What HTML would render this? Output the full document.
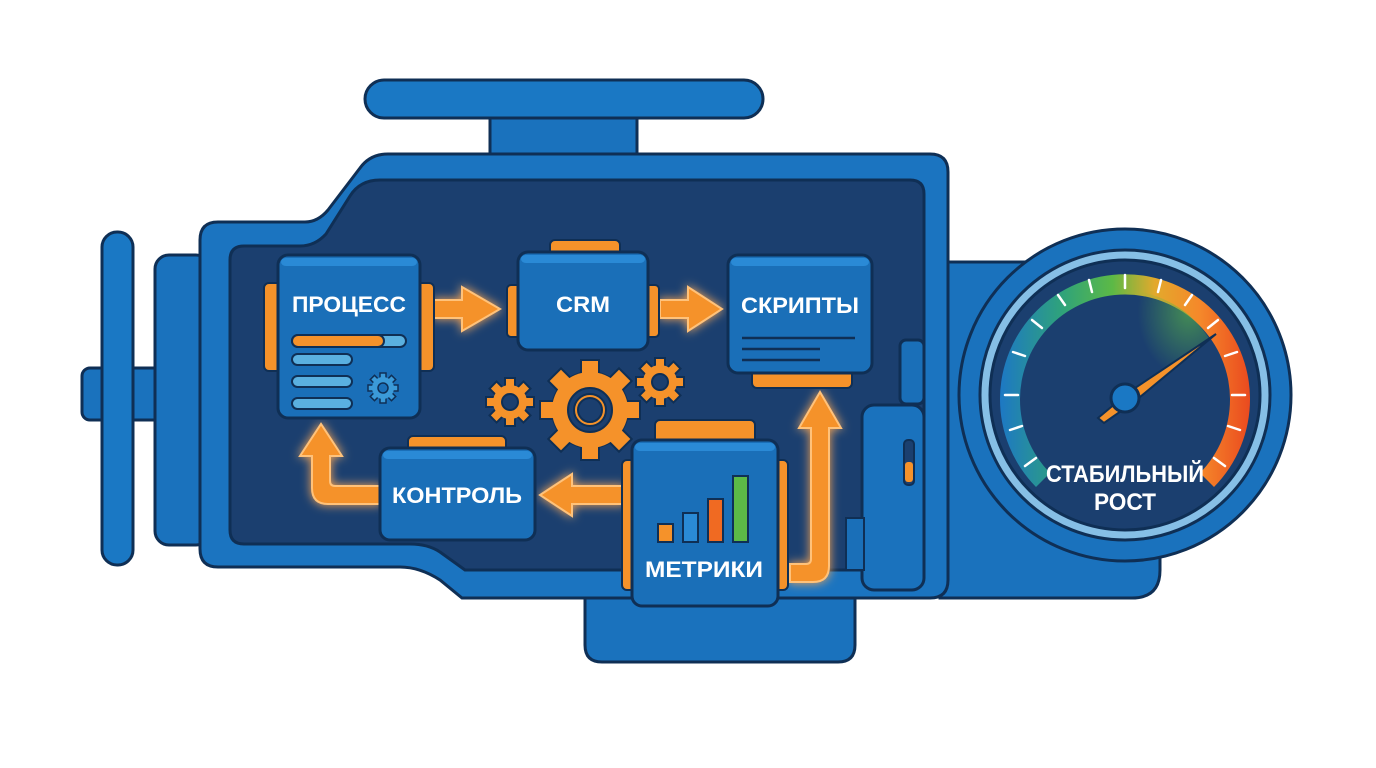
<!DOCTYPE html>
<html><head><meta charset="utf-8"><style>
html,body{margin:0;padding:0;background:#fff;width:1376px;height:768px;overflow:hidden}
text{font-family:"Liberation Sans",sans-serif;font-weight:bold;fill:#fff}
</style></head><body>
<svg width="1376" height="768" viewBox="0 0 1376 768" xmlns="http://www.w3.org/2000/svg">
<defs>
<filter id="glow" x="-30%" y="-30%" width="160%" height="160%"><feGaussianBlur stdDeviation="5" result="b"/><feMerge><feMergeNode in="b"/><feMergeNode in="SourceGraphic"/></feMerge></filter>
<linearGradient id="arcg" x1="0" y1="0" x2="1" y2="0"><stop offset="0" stop-color="#1d78c4"/><stop offset="0.25" stop-color="#2fa37a"/><stop offset="0.45" stop-color="#5cb946"/><stop offset="0.62" stop-color="#e3a92c"/><stop offset="0.8" stop-color="#f5882a"/><stop offset="1" stop-color="#ea4a1f"/></linearGradient>
<radialGradient id="greenfade" cx="0.75" cy="0.2" r="0.6"><stop offset="0" stop-color="#5cb946" stop-opacity="0.9"/><stop offset="1" stop-color="#5cb946" stop-opacity="0"/></radialGradient>
</defs>
<g stroke="#0f2f55" stroke-width="3">
<rect x="490" y="112" width="147" height="46" fill="#1a72bd"/>
<rect x="365" y="80" width="398" height="38" rx="19" fill="#1a78c4"/>
<rect x="82" y="368" width="125" height="52" rx="8" fill="#1a72bd"/>
<rect x="155" y="255" width="55" height="290" rx="14" fill="#1a72bd"/>
<rect x="102" y="232" width="31" height="333" rx="15" fill="#1a78c4"/>
<path d="M585,590 L855,590 L855,645 Q855,662 838,662 L602,662 Q585,662 585,645 Z" fill="#1a72bd"/>
<path d="M940,262 L1140,262 Q1160,262 1160,282 L1160,570 Q1160,598 1132,598 L940,598 Z" fill="#1a72bd"/>
<path d="M218,222 L305,222 Q318,222 328,210 L360,168 Q370,154 388,154 L930,154 Q948,154 948,172 L948,580 Q948,598 930,598 L462,598 L440,580 Q420,567 400,567 L218,567 Q200,567 200,549 L200,240 Q200,222 218,222 Z" fill="#1b74c0"/>
<path d="M244,246 L300,246 Q315,246 326,234 L350,196 Q360,180 380,180 L910,180 Q924,180 924,194 L924,556 Q924,570 910,570 L465,570 L440,552 Q428,544 410,544 L244,544 Q230,544 230,530 L230,260 Q230,246 244,246 Z" fill="#1b3f6f"/>
<rect x="900" y="340" width="24" height="64" rx="6" fill="#1a6fb8"/>
<rect x="862" y="405" width="62" height="185" rx="12" fill="#1a72bd"/>
<rect x="904" y="440" width="10" height="45" rx="4" fill="#1b3f6f" stroke-width="2"/>
<rect x="905" y="462" width="8" height="20" rx="3" fill="#f5922a" stroke="none"/>
<rect x="846" y="518" width="18" height="52" fill="#1a6fb8" stroke-width="2"/>
</g>
<g stroke="#0f2f55" stroke-width="3">
<circle cx="1125" cy="395" r="166" fill="#1a72bd"/>
<circle cx="1125" cy="395" r="145" fill="#86bfe6"/>
<circle cx="1125" cy="395" r="135" fill="#1b3f6f"/>
</g>
<path d="M1036,487 A125,125 0 1 1 1214,487 L1200,473 A105,105 0 1 0 1050,473 Z" fill="url(#arcg)"/>
<path d="M1125,290 A105,105 0 0 1 1210,340 L1125,400 Z" fill="url(#greenfade)" opacity="0.7"/>
<g stroke="#fff" stroke-width="2.5" stroke-linecap="round">
<line x1="1125" y1="275" x2="1125" y2="288"/>
<line x1="1161" y1="280" x2="1158" y2="292"/>
<line x1="1192" y1="295" x2="1185" y2="305"/>
<line x1="1218" y1="320" x2="1208" y2="328"/>
<line x1="1237" y1="352" x2="1225" y2="356"/>
<line x1="1245" y1="395" x2="1232" y2="395"/>
<line x1="1240" y1="430" x2="1228" y2="426"/>
<line x1="1225" y1="466" x2="1214" y2="458"/>
<line x1="1089" y1="280" x2="1092" y2="292"/>
<line x1="1058" y1="295" x2="1065" y2="305"/>
<line x1="1032" y1="320" x2="1042" y2="328"/>
<line x1="1013" y1="352" x2="1025" y2="356"/>
<line x1="1005" y1="395" x2="1018" y2="395"/>
<line x1="1010" y1="430" x2="1022" y2="426"/>
<line x1="1025" y1="466" x2="1036" y2="458"/>
</g>
<polygon points="1216,334 1129,392 1098,418 1104,423 1134,402" fill="#f5922a" stroke="#0f2f55" stroke-width="2"/>
<circle cx="1125" cy="398" r="14" fill="#1a78c4" stroke="#0f2f55" stroke-width="3"/>
<text x="1125" y="482" font-size="24" text-anchor="middle" textLength="158" lengthAdjust="spacingAndGlyphs">СТАБИЛЬНЫЙ</text>
<text x="1125" y="510" font-size="24" text-anchor="middle" textLength="62" lengthAdjust="spacingAndGlyphs">РОСТ</text>
<g fill="#f5922a" stroke="#ffc27a" stroke-width="2" filter="url(#glow)">
<polygon points="434,300 462,300 462,287 500,309 462,331 462,318 434,318"/>
<polygon points="660,300 688,300 688,287 722,309 688,331 688,318 660,318"/>
<polygon points="624,486 572,486 572,474 540,495 572,516 572,504 624,504"/>
<path d="M380,486 L335,486 Q330,486 330,481 L330,456 L342,456 L321,424 L300,456 L312,456 L312,488 Q312,504 328,504 L380,504 Z"/>
<path d="M790,564 L806,564 Q811,564 811,559 L811,428 L799,428 L820,392 L841,428 L829,428 L829,566 Q829,582 813,582 L790,582 Z"/>
</g>
<g fill="#f5922a" stroke="#0f2f55" stroke-width="2">
<g transform="translate(590,410)">
<circle r="38"/>
<g><rect x="-9" y="-50" width="18" height="16"/><rect x="-9" y="34" width="18" height="16"/><rect x="-50" y="-9" width="16" height="18"/><rect x="34" y="-9" width="16" height="18"/></g>
<g transform="rotate(45)"><rect x="-9" y="-50" width="18" height="16"/><rect x="-9" y="34" width="18" height="16"/><rect x="-50" y="-9" width="16" height="18"/><rect x="34" y="-9" width="16" height="18"/></g>
<circle r="38" stroke="none"/>
<circle r="22" fill="#1b3f6f"/><circle r="16" fill="#f5922a"/><circle r="12" fill="#1b3f6f"/>
</g>
<g transform="translate(510,402)">
<g><rect x="-5" y="-24" width="10" height="48"/><rect x="-24" y="-5" width="48" height="10"/></g>
<g transform="rotate(45)"><rect x="-5" y="-24" width="10" height="48"/><rect x="-24" y="-5" width="48" height="10"/></g>
<circle r="17" stroke="none"/><circle r="8" fill="#1b3f6f"/>
</g>
<g transform="translate(660,382)">
<g><rect x="-5" y="-24" width="10" height="48"/><rect x="-24" y="-5" width="48" height="10"/></g>
<g transform="rotate(45)"><rect x="-5" y="-24" width="10" height="48"/><rect x="-24" y="-5" width="48" height="10"/></g>
<circle r="17" stroke="none"/><circle r="8" fill="#1b3f6f"/>
</g>
</g>
<g fill="#f5922a" stroke="#0f2f55" stroke-width="2">
<rect x="264" y="283" width="18" height="88" rx="5"/><rect x="416" y="283" width="18" height="88" rx="5"/>
<rect x="550" y="240" width="70" height="16" rx="5"/>
<rect x="507" y="285" width="14" height="52" rx="4"/><rect x="645" y="285" width="14" height="52" rx="4"/>
<rect x="752" y="368" width="100" height="20" rx="5"/>
<rect x="408" y="436" width="98" height="16" rx="5"/>
<rect x="655" y="420" width="100" height="24" rx="5"/>
<rect x="622" y="460" width="14" height="130" rx="5"/><rect x="774" y="460" width="14" height="130" rx="5"/>
</g>
<g stroke="#0f2f55" stroke-width="3">
<rect x="278" y="255" width="142" height="163" rx="10" fill="#1a6fb8"/>
<rect x="518" y="252" width="130" height="98" rx="10" fill="#1a6fb8"/>
<rect x="728" y="255" width="144" height="118" rx="10" fill="#1a6fb8"/>
<rect x="380" y="448" width="155" height="92" rx="10" fill="#1a6fb8"/>
<rect x="632" y="440" width="146" height="166" rx="10" fill="#1a6fb8"/>
</g>
<g fill="#2a8ad6">
<rect x="281" y="258" width="136" height="8" rx="5"/>
<rect x="521" y="255" width="124" height="8" rx="5"/>
<rect x="731" y="258" width="138" height="8" rx="5"/>
<rect x="383" y="451" width="149" height="8" rx="5"/>
<rect x="635" y="443" width="140" height="8" rx="5"/>
</g>
<text x="349" y="312" font-size="22" text-anchor="middle" textLength="114" lengthAdjust="spacingAndGlyphs">ПРОЦЕСС</text>
<text x="583" y="312" font-size="22" text-anchor="middle" textLength="54" lengthAdjust="spacingAndGlyphs">CRM</text>
<text x="800" y="313" font-size="22" text-anchor="middle" textLength="118" lengthAdjust="spacingAndGlyphs">СКРИПТЫ</text>
<text x="457" y="503" font-size="22" text-anchor="middle" textLength="130" lengthAdjust="spacingAndGlyphs">КОНТРОЛЬ</text>
<text x="704" y="577" font-size="22" text-anchor="middle" textLength="118" lengthAdjust="spacingAndGlyphs">МЕТРИКИ</text>
<g stroke="#0f2f55" stroke-width="2">
<rect x="292" y="335" width="114" height="12" rx="6" fill="#5ab0e0"/>
<rect x="292" y="335" width="92" height="12" rx="6" fill="#f5922a"/>
<rect x="292" y="354" width="60" height="11" rx="5.5" fill="#5ab0e0"/>
<rect x="292" y="376" width="60" height="11" rx="5.5" fill="#5ab0e0"/>
<rect x="292" y="398" width="60" height="11" rx="5.5" fill="#5ab0e0"/>
</g>
<g transform="translate(383,388)" fill="#3b9ad8" stroke="#0f2f55" stroke-width="1.5">
<rect x="-3" y="-15" width="6" height="30"/><rect x="-15" y="-3" width="30" height="6"/>
<g transform="rotate(45)"><rect x="-3" y="-15" width="6" height="30"/><rect x="-15" y="-3" width="30" height="6"/></g>
<circle r="11" stroke="none"/><circle r="5" fill="#1a6fb8"/>
</g>
<g stroke="#0f2f55" stroke-width="2.5">
<line x1="742" y1="338" x2="855" y2="338"/>
<line x1="742" y1="349" x2="820" y2="349"/>
<line x1="742" y1="360" x2="820" y2="360"/>
</g>
<g stroke="#0f2f55" stroke-width="2">
<rect x="658" y="524" width="15" height="18" fill="#f5922a"/>
<rect x="683" y="513" width="15" height="29" fill="#2a8ad6"/>
<rect x="708" y="499" width="15" height="43" fill="#f06a22"/>
<rect x="733" y="476" width="15" height="66" fill="#5cb946"/>
</g>
</svg>
</body></html>
